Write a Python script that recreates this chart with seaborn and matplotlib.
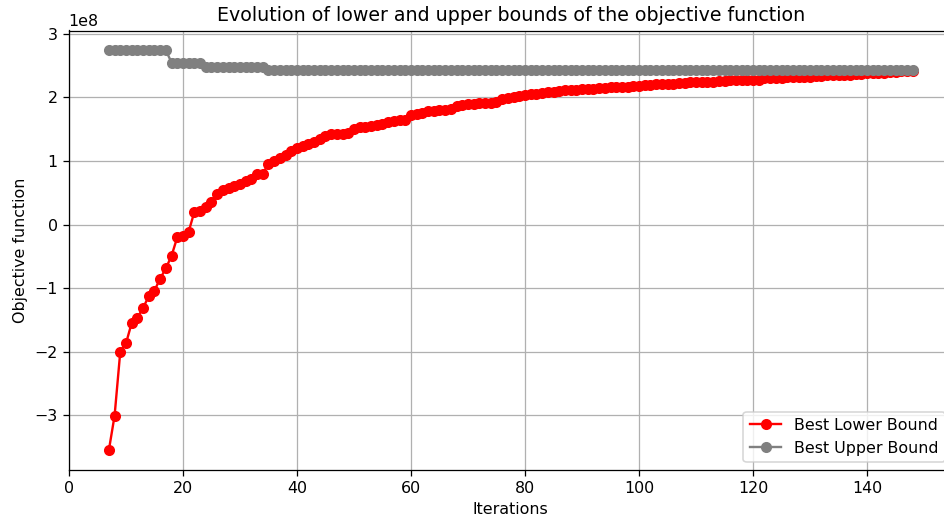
import numpy as np
import pandas as pd
import matplotlib
matplotlib.use("Agg")
import matplotlib.pyplot as plt
import seaborn as sns

# Iterations 7..148
iterations = list(range(7, 149))

# Best lower bound (units of 1e8)
lower_bound = [
    -3.55, -3.01, -2.00, -1.87, -1.55, -1.47, -1.31, -1.13, -1.04, -0.85,
    -0.69, -0.49, -0.20, -0.18, -0.11, 0.20, 0.22, 0.27, 0.35, 0.48,
    0.55, 0.57, 0.60, 0.64, 0.68, 0.71, 0.79, 0.80, 0.96, 1.00,
    1.05, 1.10, 1.15, 1.20, 1.23, 1.26, 1.30, 1.35, 1.39, 1.42,
    1.43, 1.43, 1.44, 1.51, 1.53, 1.54, 1.55, 1.57, 1.59, 1.61,
    1.63, 1.64, 1.64, 1.72, 1.74, 1.76, 1.78, 1.79, 1.80, 1.81,
    1.82, 1.86, 1.88, 1.89, 1.90, 1.91, 1.92, 1.92, 1.93, 1.98,
    1.99, 2.00, 2.02, 2.04, 2.05, 2.06, 2.07, 2.08, 2.09, 2.10,
    2.11, 2.12, 2.12, 2.13, 2.14, 2.14, 2.15, 2.15, 2.16, 2.17,
    2.17, 2.17, 2.18, 2.18, 2.19, 2.20, 2.21, 2.21, 2.22, 2.22,
    2.23, 2.23, 2.24, 2.24, 2.25, 2.25, 2.25, 2.26, 2.26, 2.27,
    2.27, 2.27, 2.28, 2.28, 2.28, 2.30, 2.30, 2.31, 2.31, 2.32,
    2.32, 2.32, 2.33, 2.33, 2.34, 2.34, 2.35, 2.35, 2.35, 2.36,
    2.36, 2.37, 2.37, 2.38, 2.38, 2.39, 2.39, 2.40, 2.40, 2.41,
    2.42, 2.42,
]

# Best upper bound (units of 1e8), piecewise constant levels
upper_bound = [2.74] * 11 + [2.55] * 6 + [2.48] * 11 + [2.43] * 114

assert len(iterations) == len(lower_bound) == len(upper_bound)

df = pd.DataFrame({
    "Iterations": iterations,
    "lower": np.array(lower_bound) * 1e8,
    "upper": np.array(upper_bound) * 1e8,
})

DPI = 114
fig = plt.figure(figsize=(944 / DPI, 521 / DPI), dpi=DPI)
W, H = 944, 521
left, right, top, bottom = 68.7, 952.8, 30.5, 470
ax = fig.add_axes([left / W, 1 - bottom / H, (right - left) / W, (bottom - top) / H])

sns.lineplot(data=df, x="Iterations", y="lower", ax=ax, color="red",
             marker="o", markersize=6, markeredgecolor="red",
             markeredgewidth=1, label="Best Lower Bound")
sns.lineplot(data=df, x="Iterations", y="upper", ax=ax, color="gray",
             marker="o", markersize=6, markeredgecolor="gray",
             markeredgewidth=1, label="Best Upper Bound")

ax.set_title("Evolution of lower and upper bounds of the objective function")
ax.set_xlabel("Iterations")
ax.set_ylabel("Objective function")
ax.grid(True)
ax.legend(loc="lower right")

fig.savefig("out.png", dpi=DPI)
